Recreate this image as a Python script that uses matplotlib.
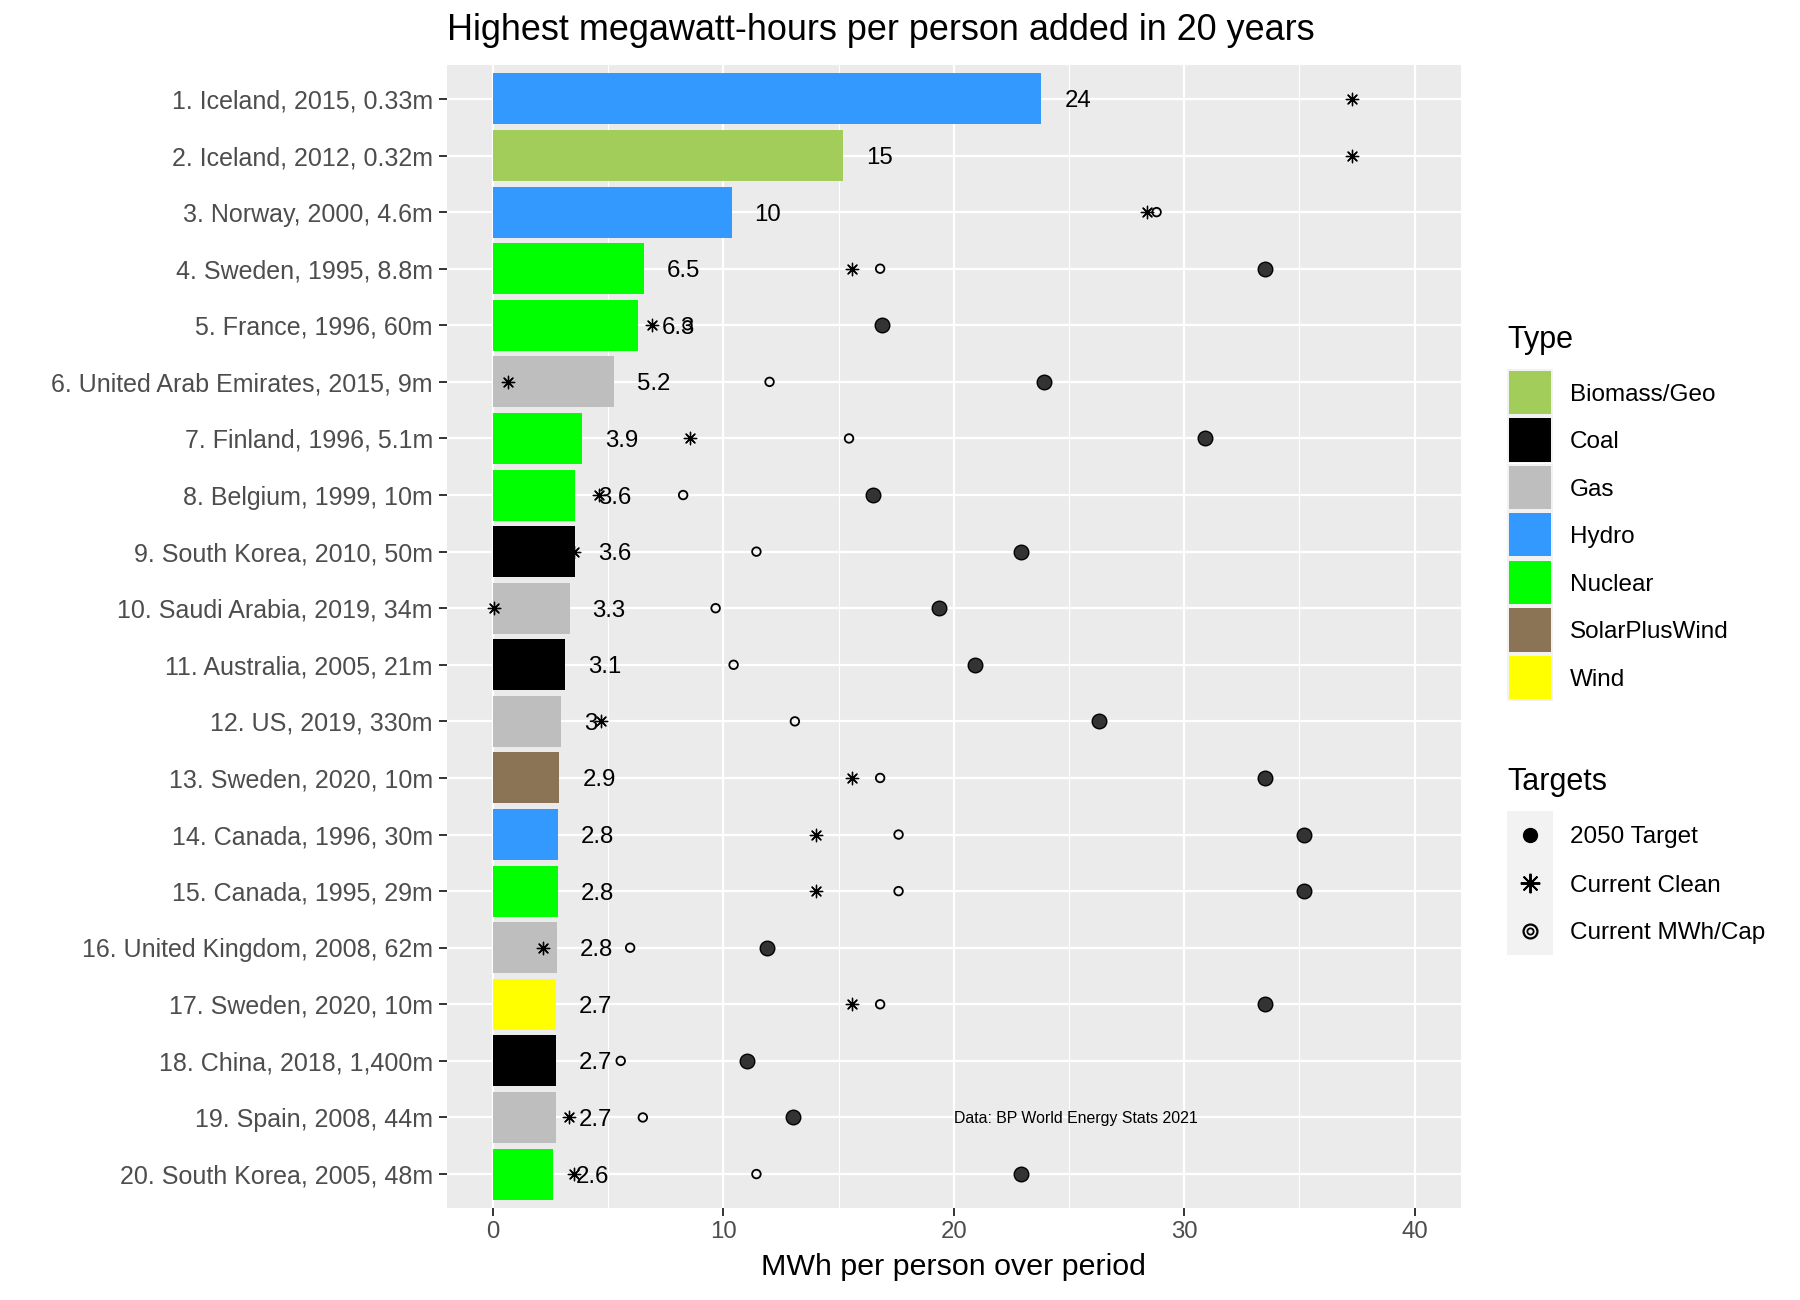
import matplotlib
matplotlib.use("Agg")
import matplotlib.pyplot as plt
from matplotlib.patches import Rectangle
from matplotlib.lines import Line2D
import numpy as np

plt.rcParams['font.family'] = ['Liberation Sans', 'DejaVu Sans']

# ---------------- data ----------------
labels = [
    "1. Iceland, 2015, 0.33m", "2. Iceland, 2012, 0.32m", "3. Norway, 2000, 4.6m",
    "4. Sweden, 1995, 8.8m", "5. France, 1996, 60m", "6. United Arab Emirates, 2015, 9m",
    "7. Finland, 1996, 5.1m", "8. Belgium, 1999, 10m", "9. South Korea, 2010, 50m",
    "10. Saudi Arabia, 2019, 34m", "11. Australia, 2005, 21m", "12. US, 2019, 330m",
    "13. Sweden, 2020, 10m", "14. Canada, 1996, 30m", "15. Canada, 1995, 29m",
    "16. United Kingdom, 2008, 62m", "17. Sweden, 2020, 10m", "18. China, 2018, 1,400m",
    "19. Spain, 2008, 44m", "20. South Korea, 2005, 48m",
]
types = ["Hydro", "Biomass/Geo", "Hydro", "Nuclear", "Nuclear", "Gas", "Nuclear", "Nuclear",
         "Coal", "Gas", "Coal", "Gas", "SolarPlusWind", "Hydro", "Nuclear", "Gas", "Wind",
         "Coal", "Gas", "Nuclear"]
mwh_added = [23.8, 15.2, 10.35, 6.53, 6.31, 5.24, 3.88, 3.57, 3.57, 3.32, 3.13, 2.96,
             2.88, 2.82, 2.80, 2.76, 2.74, 2.71, 2.71, 2.60]
target_2050 = [np.nan, np.nan, np.nan, 33.5, 16.9, 23.9, 30.9, 16.5, 22.9, 19.35, 20.9, 26.3,
               33.5, 35.2, 35.2, 11.9, 33.5, 11.0, 13.0, 22.9]
current_clean = [37.3, 37.3, 28.4, 15.6, 6.9, 0.64, 8.55, 4.6, 3.5, 0.05, 1.5, 4.7,
                 15.6, 14.0, 14.0, 2.16, 15.6, 1.0, 3.3, 3.5]
current_mwh_cap = [np.nan, np.nan, 28.8, 16.8, 8.44, 12.0, 15.45, 8.25, 11.43, 9.66, 10.44, 13.1,
                   16.8, 17.6, 17.6, 5.95, 16.8, 5.54, 6.5, 11.43]

type_names = ["Biomass/Geo", "Coal", "Gas", "Hydro", "Nuclear", "SolarPlusWind", "Wind"]
type_colors = ["#A2CD5A", "#000000", "#BEBEBE", "#3399FF", "#00FF00", "#8B7355", "#FFFF00"]
target_names = ["2050 Target", "Current Clean", "Current MWh/Cap"]
xticks = [0, 10, 20, 30, 40]

title = "Highest megawatt-hours per person added in 20 years"
xlabel = "MWh per person over period"
note = "Data: BP World Energy Stats 2021"

# ---------------- figure ----------------
W, H = 1800, 1300
fig = plt.figure(figsize=(W / 100, H / 100), dpi=100)
def fx(px): return px / W
def fy(py): return 1 - py / H

L, R, T, B = 447, 1460.7, 65, 1208
ax = fig.add_axes([fx(L), fy(B), fx(R) - fx(L), (B - T) / H])
ax.set_facecolor("#EBEBEB")
for s in ax.spines.values():
    s.set_visible(False)

n = len(labels)
ypos = np.arange(n)
cmap = dict(zip(type_names, type_colors))
ax.set_xlim(-2, 42)
ax.set_ylim(n - 1 + 0.6, -0.6)

# grid
ax.set_xticks(xticks)
ax.set_xticks([5, 15, 25, 35], minor=True)
ax.set_yticks(ypos)
ax.grid(which="major", color="white", linewidth=1.6, zorder=0)
ax.grid(which="minor", axis="x", color="white", linewidth=0.8, zorder=0)
ax.set_axisbelow(True)

ax.barh(ypos, mwh_added, height=0.9, color=[cmap[t] for t in types], zorder=2)

for y, v in zip(ypos, mwh_added):
    ax.text(v + 1.0, y, f"{v:.2g}", ha="left", va="center_baseline", fontsize=17.3,
            color="black", zorder=3)

ax.scatter(target_2050, ypos, s=110, facecolor="#333333", edgecolor="black", linewidth=1.0, zorder=4)
ax.scatter(current_clean, ypos, s=80, marker=(8, 2, 0), color="black", linewidth=0.95, zorder=4)
ax.scatter(current_mwh_cap, ypos, s=38, facecolor="none", edgecolor="black", linewidth=1.3, zorder=4)

ax.text(25.3, 18, note, ha="center", va="center_baseline", fontsize=11.4, color="black", zorder=3)

ax.set_yticklabels(labels, fontsize=18, color="#4D4D4D")
ax.set_xticklabels([str(t) for t in xticks], fontsize=17.3, color="#4D4D4D")
ax.tick_params(axis="both", which="major", length=5.8, width=1.4, color="#333333")
ax.tick_params(axis="y", pad=4.3)
ax.tick_params(axis="x", pad=3.5)
ax.tick_params(axis="x", which="minor", length=0)

fig.text(fx(L), fy(40), title, ha="left", va="baseline", fontsize=25.9, color="black")
fig.text(fx((L + R) / 2), fy(1275), xlabel, ha="center", va="baseline", fontsize=21.9, color="black")

# ---------------- legends ----------------
kx0, kw = 1507, 46
fig.text(fx(kx0), fy(348), "Type", ha="left", va="baseline", fontsize=22)
ktop, kh = 368.5, 47.5
for i, (nm, c) in enumerate(zip(type_names, type_colors)):
    y0 = ktop + i * kh
    fig.add_artist(Rectangle((fx(kx0), fy(y0 + kh)), kw / W, kh / H, transform=fig.transFigure,
                             facecolor="#F2F2F2", edgecolor="none"))
    fig.add_artist(Rectangle((fx(kx0 + 2), fy(y0 + kh - 2)), (kw - 4) / W, (kh - 4) / H,
                             transform=fig.transFigure, facecolor=c, edgecolor="none"))
    fig.text(fx(1570), fy(y0 + kh / 2), nm, ha="left", va="center_baseline", fontsize=17.5)

fig.text(fx(kx0), fy(790), "Targets", ha="left", va="baseline", fontsize=22)
ttop, th = 811, 48
fig.add_artist(Rectangle((fx(kx0), fy(ttop + 3 * th)), kw / W, 3 * th / H, transform=fig.transFigure,
                         facecolor="#F2F2F2", edgecolor="none"))
for i, nm in enumerate(target_names):
    yc = ttop + (i + 0.5) * th
    cx = kx0 + kw / 2
    if i == 0:
        fig.add_artist(Line2D([fx(cx)], [fy(yc)], marker="o", markersize=10, markerfacecolor="black",
                              markeredgecolor="black", transform=fig.transFigure))
    elif i == 1:
        fig.add_artist(Line2D([fx(cx)], [fy(yc)], marker=(8, 2, 0), markersize=14, color="black",
                              markeredgewidth=1.4, transform=fig.transFigure))
    else:
        fig.add_artist(Line2D([fx(cx)], [fy(yc)], marker="o", markersize=10, markerfacecolor="none",
                              markeredgecolor="black", markeredgewidth=1.6, transform=fig.transFigure))
        fig.add_artist(Line2D([fx(cx)], [fy(yc)], marker="o", markersize=4.5, markerfacecolor="none",
                              markeredgecolor="black", markeredgewidth=1.3, transform=fig.transFigure))
    fig.text(fx(1570), fy(yc), nm, ha="left", va="center_baseline", fontsize=17.5)

fig.savefig("out.png", dpi=100)
